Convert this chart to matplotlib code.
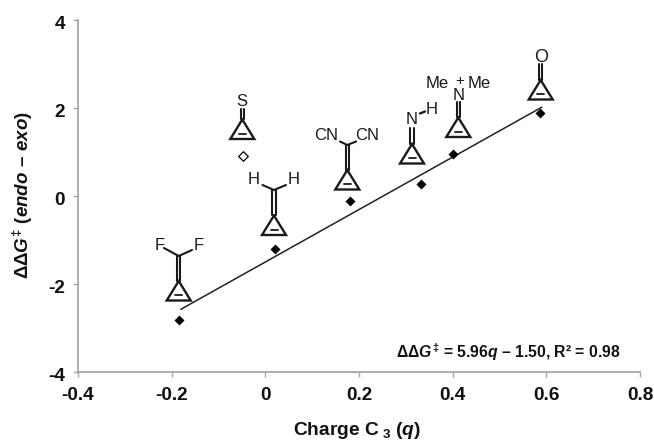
import matplotlib
matplotlib.use("Agg")
import matplotlib.pyplot as plt
import matplotlib.transforms as mtrans
import numpy as np

plt.rcParams['font.family'] = ['Liberation Sans', 'DejaVu Sans']
plt.rcParams['axes.unicode_minus'] = False
plt.rcParams['mathtext.fontset'] = 'custom'
plt.rcParams['mathtext.rm'] = 'Liberation Sans:bold'
plt.rcParams['mathtext.bf'] = 'Liberation Sans:bold'
plt.rcParams['mathtext.it'] = 'Liberation Sans:italic:bold'
plt.rcParams['mathtext.bfit'] = 'Liberation Sans:italic:bold'
plt.rcParams['mathtext.fallback'] = 'stixsans'

charge = [-0.184, 0.02, 0.18, 0.333, 0.40, 0.587]
ddg = [-2.82, -1.20, -0.12, 0.28, 0.95, 1.88]
outlier_charge = [-0.047]
outlier_ddg = [0.90]
fit_q = [-0.18, 0.59]
slope = 5.96
intercept = -1.50
xticks = [-0.4, -0.2, 0, 0.2, 0.4, 0.6, 0.8]
xticklabels = ['-0.4', '-0.2', '0', '0.2', '0.4', '0.6', '0.8']
yticks = [-4, -2, 0, 2, 4]

W, H = 654, 440
fig = plt.figure(figsize=(W / 100, H / 100), dpi=100)
L, R, T, B = 78, 640, 20, 372
ax = fig.add_axes([L / W, 1 - B / H, (R - L) / W, (B - T) / H])
ax.set_xlim(-0.4, 0.8)
ax.set_ylim(-4, 4)
for s in ('top', 'right'):
    ax.spines[s].set_visible(False)
axis_grey = '#a6a6a6'
for s in ('left', 'bottom'):
    ax.spines[s].set_color(axis_grey)
    ax.spines[s].set_linewidth(1.3)
ax.set_xticks(xticks, xticklabels)
ax.set_yticks(yticks)
ax.tick_params(axis='x', direction='out', length=3.5, width=1, color=axis_grey, pad=7.5)
ax.tick_params(axis='y', direction='out', length=3.5, width=1, color=axis_grey, pad=6)
for t in ax.get_xticklabels() + ax.get_yticklabels():
    t.set_fontsize(13.7)
    t.set_fontweight('bold')
    t.set_color('#111111')
shift = mtrans.ScaledTranslation(0, -2.5 / 100, fig.dpi_scale_trans)
for t in ax.get_yticklabels():
    t.set_transform(t.get_transform() + shift)

ax.plot(fit_q, [slope * q + intercept for q in fit_q], color='#222222', lw=1.1, zorder=2)
ax.scatter(charge, ddg, marker='D', s=26, color='black', zorder=3, linewidths=0)
ax.scatter(outlier_charge, outlier_ddg, marker='D', s=24, facecolor='white',
           edgecolor='black', linewidths=0.9, zorder=3)

fig.text(357 / W, 1 - 435 / H, r'Charge C$_{\ \mathregular{3}}$ ($\mathit{q}$)', fontsize=13.8,
         fontweight='bold', ha='center', va='baseline', color='#111111')
fig.text(23 / W, 1 - 195 / H, r'ΔΔ$\mathit{G}^{‡}$ $\mathit{(endo\ –\ exo)}$', fontsize=13.5,
         fontweight='bold', rotation=90, ha='center', va='center', color='#111111')
fig.text(508 / W, 1 - 357.5 / H,
         r'ΔΔ$\mathit{G}^{‡}$ = 5.96$\mathit{q}$ – 1.50, R² = 0.98', fontsize=11.3,
         fontweight='bold', ha='center', va='baseline', color='#111111')

ov = fig.add_axes([0, 0, 1, 1], facecolor='none')
ov.set_xlim(0, W)
ov.set_ylim(H, 0)
ov.axis('off')
INK = '#1a1a1a'


def seg(x0, y0, x1, y1, lw=1.5, **kw):
    ov.plot([x0, x1], [y0, y1], color=INK, lw=lw, solid_capstyle='round', **kw)


def ring(cx, apex_y, top_y=None):
    base = apex_y + 19.5
    ov.plot([cx, cx - 12, cx + 12, cx], [apex_y, base, base, apex_y], color=INK, lw=1.7,
            solid_joinstyle='miter')
    seg(cx - 3.5, apex_y + 14.5, cx + 3.5, apex_y + 14.5, lw=1.3)
    if top_y is not None:
        seg(cx - 1.7, apex_y, cx - 1.7, top_y)
        seg(cx + 1.7, apex_y, cx + 1.7, top_y)


def atom(x, y, s, size=12):
    ov.text(x, y, s, fontsize=size, ha='center', va='center', color=INK)


# C=S
ring(242.3, 119.5, 109)
atom(242, 102, 'S')
# C=CH2
ring(274, 215.5, 190)
seg(274, 190, 262.5, 185)
seg(274, 190, 286, 185)
atom(254, 180, 'H')
atom(294, 180, 'H')
# C=CF2
ring(178.7, 281, 256)
seg(178.7, 256, 164, 248)
seg(178.7, 256, 192, 250)
atom(159.5, 245, 'F')
atom(198.5, 245, 'F')
# C=C(CN)2
ring(347.3, 170, 145)
seg(347.3, 145, 340, 141.5)
seg(347.3, 145, 356, 141.5)
atom(326.5, 136, 'CN')
atom(367, 136, 'CN')
# C=NH
ring(412, 144, 128)
atom(411.7, 120, 'N')
seg(420, 113.5, 425, 111.5, lw=1.7)
atom(432, 109, 'H')
# C=NMe2+
ring(458.3, 117.5, 102)
atom(458.3, 95, 'N')
atom(437, 83, 'Me')
atom(460, 81, '+', 11)
atom(479.5, 83, 'Me')
# C=O
ring(540.7, 80, 64)
atom(540.7, 57.5, 'O', 13)

fig.savefig('out.png', dpi=100)
